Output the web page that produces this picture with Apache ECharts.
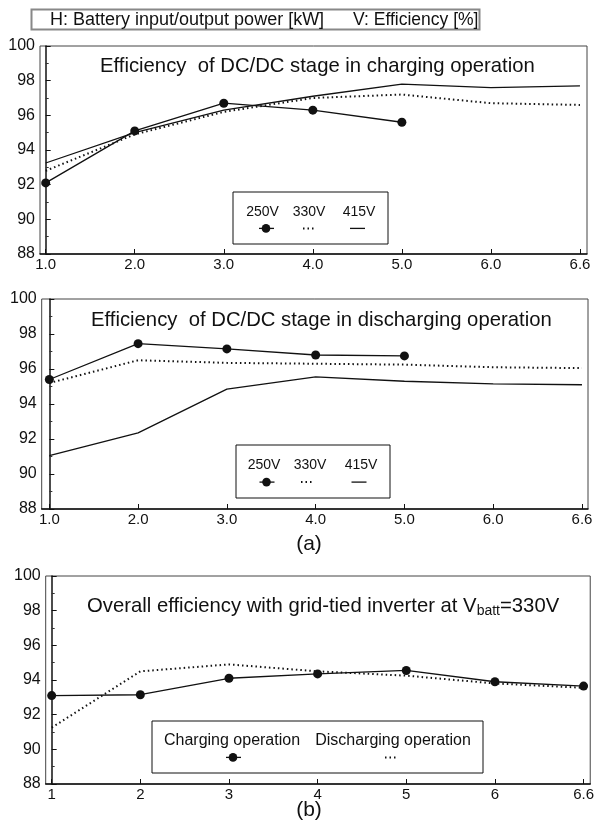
<!DOCTYPE html>
<html>
<head>
<meta charset="utf-8">
<script src="https://cdn.jsdelivr.net/npm/echarts@6/dist/echarts.min.js"></script>
<style>
  html, body { margin: 0; padding: 0; background: #fff; }
  #chart { width: 597px; height: 836px; }
</style>
</head>
<body>
<div id="chart"></div>
<script>
// x categories (equally spaced on the original figure)
const powerLabels = ["1.0", "2.0", "3.0", "4.0", "5.0", "6.0", "6.6"];
const powerLabelsB = ["1", "2", "3", "4", "5", "6", "6.6"];
const yTicks = [88, 90, 92, 94, 96, 98, 100];

// (a) DC/DC stage, charging
const chg250 = [92.1, 95.1, 96.7, 96.3, 95.6];
const chg330 = [92.8, 94.9, 96.2, 97.0, 97.2, 96.7, 96.6];
const chg415 = [93.25, 95.0, 96.3, 97.1, 97.8, 97.6, 97.7];

// (a) DC/DC stage, discharging
const dis250 = [95.4, 97.45, 97.15, 96.8, 96.75];
const dis330 = [95.2, 96.5, 96.35, 96.3, 96.25, 96.1, 96.05];
const dis415 = [91.05, 92.35, 94.85, 95.55, 95.3, 95.15, 95.1];

// (b) overall efficiency at Vbatt = 330V
const overallChg = [93.1, 93.15, 94.1, 94.35, 94.55, 93.9, 93.65];
const overallDis = [91.25, 94.5, 94.9, 94.5, 94.25, 93.8, 93.55];

const FONT = '"Liberation Sans", Arial, sans-serif';
const INK = "#111";

const toPts = vals => vals.map((v, i) => [i, v]);
const idx = powerLabels.map((_, i) => i);

// grid boxes: [left, top, width, height, xmin, xmax]
const boxes = [
  [40, 46, 547, 208, -0.064, 6.079],
  [41.7, 299, 546.3, 210, -0.086, 6.068],
  [45.7, 576, 546, 208, -0.0675, 6.075]
];

const grid = boxes.map(b => ({
  left: b[0], top: b[1], width: b[2], height: b[3],
  show: true, borderColor: "#444", borderWidth: 1, backgroundColor: "transparent"
}));

const xAxis = boxes.map((b, g) => ({
  type: "value", gridIndex: g, min: b[4], max: b[5],
  axisLine: { lineStyle: { color: INK, width: 1.5 } },
  axisTick: { inside: true, length: 5, customValues: idx, lineStyle: { color: INK } },
  axisLabel: {
    customValues: idx, margin: 3, color: INK, fontSize: 15, fontFamily: FONT,
    formatter: v => (g === 2 ? powerLabelsB : powerLabels)[Math.round(v)]
  },
  splitLine: { show: false }
}));

const yAxis = boxes.map((b, g) => ({
  type: "value", gridIndex: g, min: 88, max: 100, interval: 2,
  axisLine: { show: true, lineStyle: { color: INK, width: 1.5 } },
  axisTick: { show: true, inside: true, length: 5, lineStyle: { color: INK } },
  minorTick: { show: true, splitNumber: 2, length: 3, lineStyle: { color: "#333" } },
  axisLabel: {
    margin: 5, color: INK, fontSize: 16, fontFamily: FONT,
    formatter: v => (yTicks.includes(v) ? String(v) : "")
  },
  splitLine: { show: false }
}));

const solid = (data, g, marker) => ({
  type: "line", xAxisIndex: g, yAxisIndex: g, data: toPts(data),
  symbol: marker ? "circle" : "none", symbolSize: 9, showSymbol: !!marker,
  itemStyle: { color: INK }, lineStyle: { color: INK, width: 1.3 },
  animation: false, silent: true
});
const dotted = (data, g) => ({
  type: "line", xAxisIndex: g, yAxisIndex: g, data: toPts(data),
  symbol: "none", lineStyle: { color: INK, width: 2, type: [1.5, 3] },
  animation: false, silent: true
});

// legend drawn as text-over-symbol boxes, like the original figure
function legendBox(x, y, w, h, items, fs) {
  const children = [{
    type: "rect", shape: { x: x, y: y, width: w, height: h },
    style: { fill: "#fff", stroke: INK, lineWidth: 1 }
  }];
  items.forEach(it => {
    children.push({
      type: "text", x: it.cx, y: y + h * 0.38,
      style: { text: it.name, font: fs + "px " + FONT, fill: INK, align: "center", verticalAlign: "middle" }
    });
    const sy = y + h * 0.7;
    if (it.kind === "marker") {
      children.push({ type: "line", shape: { x1: it.sx - 7, y1: sy, x2: it.sx + 8, y2: sy }, style: { stroke: INK, lineWidth: 1.3 } });
      children.push({ type: "circle", shape: { cx: it.sx, cy: sy, r: 4.3 }, style: { fill: INK } });
    } else if (it.kind === "dot") {
      children.push({ type: "line", shape: { x1: it.sx - 6, y1: sy, x2: it.sx + 6, y2: sy }, style: { stroke: INK, lineWidth: 2, lineDash: [1.5, 3] } });
    } else {
      children.push({ type: "line", shape: { x1: it.sx - 7.5, y1: sy, x2: it.sx + 7.5, y2: sy }, style: { stroke: INK, lineWidth: 1.3 } });
    }
  });
  return { type: "group", children: children, z: 100 };
}

const titleStyle = { fontSize: 20.3, fontWeight: "normal", color: INK, fontFamily: FONT };

const option = {
  animation: false,
  grid: grid,
  xAxis: xAxis,
  yAxis: yAxis,
  title: [
    { text: "Efficiency  of DC/DC stage in charging operation", left: 95, top: 51, textStyle: titleStyle },
    { text: "Efficiency  of DC/DC stage in discharging operation", left: 86, top: 305, textStyle: titleStyle },
    {
      text: "{m|Overall efficiency with grid-tied inverter at V}{s|batt}{m|=330V}", left: 82, top: 591,
      textStyle: {
        fontFamily: FONT, color: INK, fontWeight: "normal",
        rich: {
          m: { fontSize: 20.3, fontFamily: FONT, color: INK, verticalAlign: "bottom" },
          s: { fontSize: 14, fontFamily: FONT, color: INK, verticalAlign: "bottom", padding: [0, 0, -2, 0] }
        }
      }
    }
  ],
  series: [
    solid(chg250, 0, true), dotted(chg330, 0), solid(chg415, 0, false),
    solid(dis250, 1, true), dotted(dis330, 1), solid(dis415, 1, false),
    solid(overallChg, 2, true), dotted(overallDis, 2)
  ],
  graphic: [
    {
      type: "rect", shape: { x: 31.5, y: 9.5, width: 448, height: 20 },
      style: { fill: "#fff", stroke: "#888", lineWidth: 2 }
    },
    { type: "text", x: 50, y: 20, style: { text: "H: Battery input/output power [kW]", font: "18px " + FONT, fill: INK, verticalAlign: "middle" } },
    { type: "text", x: 353, y: 20, style: { text: "V: Efficiency [%]", font: "17.5px " + FONT, fill: INK, verticalAlign: "middle" } },
    legendBox(233, 192, 155, 52, [
      { name: "250V", cx: 262.5, sx: 266, kind: "marker" },
      { name: "330V", cx: 309, sx: 309, kind: "dot" },
      { name: "415V", cx: 359, sx: 357.5, kind: "line" }
    ], 14),
    legendBox(236, 445, 154, 53, [
      { name: "250V", cx: 264, sx: 266.5, kind: "marker" },
      { name: "330V", cx: 310, sx: 307, kind: "dot" },
      { name: "415V", cx: 361, sx: 359, kind: "line" }
    ], 14),
    legendBox(152, 721, 331, 52, [
      { name: "Charging operation", cx: 232, sx: 233, kind: "marker" },
      { name: "Discharging operation", cx: 393, sx: 391, kind: "dot" }
    ], 16),
    { type: "text", x: 309, y: 544, style: { text: "(a)", font: "21px " + FONT, fill: INK, align: "center", verticalAlign: "middle" } },
    { type: "text", x: 309, y: 810, style: { text: "(b)", font: "21px " + FONT, fill: INK, align: "center", verticalAlign: "middle" } }
  ]
};

echarts.init(document.getElementById("chart"), null, { renderer: "canvas" }).setOption(option);
</script>
</body>
</html>
